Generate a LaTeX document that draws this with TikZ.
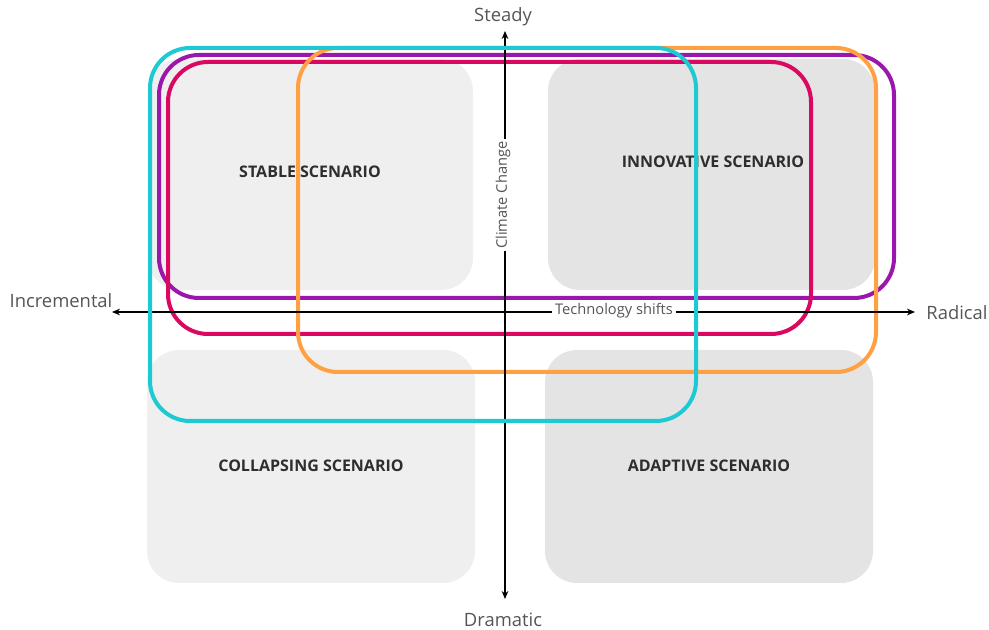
\documentclass[tikz,border=0pt]{standalone}
\usepackage{fontspec}
\setmainfont{Open Sans}
\usetikzlibrary{arrows.meta}
\definecolor{boxlight}{HTML}{EFEFEF}
\definecolor{boxdark}{HTML}{E4E4E4}
\definecolor{ringteal}{HTML}{1DC9D2}
\definecolor{ringpurple}{HTML}{9A17AC}
\definecolor{ringcrimson}{HTML}{DA0860}
\definecolor{ringorange}{HTML}{FFA142}
\definecolor{axistext}{HTML}{555555}
\definecolor{scentext}{HTML}{2E2E2E}
\tikzset{
  quadrant/.style={rounded corners=24pt},
  ring/.style={line width=3pt, rounded corners=30pt},
  axis/.style={line width=0.8pt, {Stealth[length=6pt,width=5pt]}-{Stealth[length=6pt,width=5pt]}},
  axislabel/.style={text=axistext, font=\fontsize{13.8}{15}\selectfont, inner sep=1pt},
  axisname/.style={text=axistext, fill=white, font=\fontsize{11}{12}\selectfont, inner sep=2pt},
  scenario/.style={text=scentext, font=\bfseries\fontsize{12}{13}\selectfont}
}
\begin{document}
\begin{tikzpicture}[x=0.75pt, y=-0.75pt]
\useasboundingbox (0,0) rectangle (989,630);

% quadrant backgrounds
\fill[boxlight, quadrant] (148,59) rectangle (473,290);
\fill[boxdark,  quadrant] (548,59) rectangle (875,290);
\fill[boxlight, quadrant] (147,350) rectangle (475,583);
\fill[boxdark,  quadrant] (545,350) rectangle (873,583);

% scenario names
\node[scenario] (stable)     at (310,172) {STABLE SCENARIO};
\node[scenario] (innovative) at (713,162) {INNOVATIVE SCENARIO};
\node[scenario] (collapsing) at (311,466) {COLLAPSING SCENARIO};
\node[scenario] (adaptive)   at (709,466) {ADAPTIVE SCENARIO};

% overlapping scenario groupings
\draw[ring, ringpurple]  (159,55) rectangle (894,298);
\draw[ring, ringcrimson] (168,62) rectangle (811,334);
\draw[ring, ringorange]  (298,48) rectangle (876,372);

% axes
\coordinate (west)  at (112,312);
\coordinate (east)  at (915,312);
\coordinate (north) at (505,31);
\coordinate (south) at (505,599);
\draw[axis] (west) -- (east);
\draw[axis] (north) -- (south);

\node[axislabel] (steady)      at (503,17)  {Steady};
\node[axislabel] (dramatic)    at (503,620) {Dramatic};
\node[axislabel] (incremental) at (61,301)  {Incremental};
\node[axislabel] (radical)     at (957,313) {Radical};
\node[axisname]  (tech)        at (614,311) {Technology shifts};
\node[axisname, rotate=90] (climate) at (503,195) {Climate Change};

\draw[ring, ringteal]    (150,48) rectangle (696,421);
\end{tikzpicture}
\end{document}
